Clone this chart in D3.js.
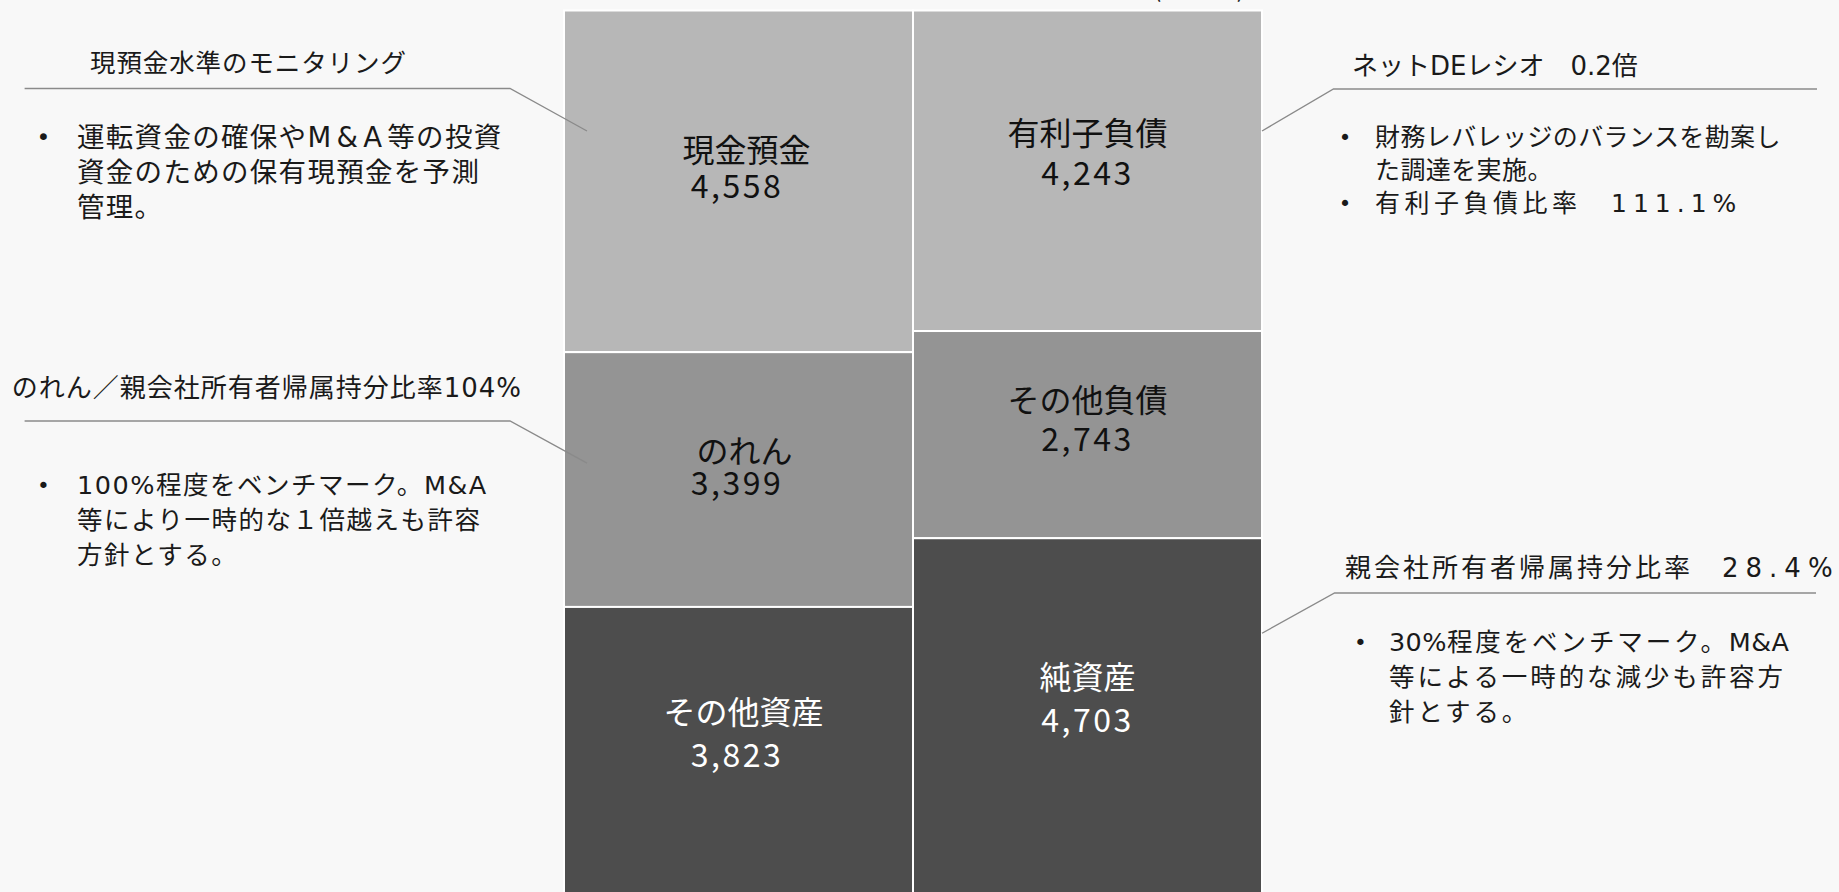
<!DOCTYPE html>
<html>
<head>
<meta charset="utf-8">
<script src="https://cdn.jsdelivr.net/npm/d3@7"></script>
<style>
  html, body { margin: 0; padding: 0; background: #f8f8f8; overflow: hidden; }
  svg { display: block; font-family: "Noto Sans CJK JP", "Noto Sans", sans-serif; }
  .note { font-family: "DejaVu Sans", "Noto Sans CJK JP", sans-serif; }
</style>
</head>
<body>
<svg id="chart" width="1839" height="892"></svg>
<script>
// ---------------- data ----------------
const columns = ["資産", "負債・純資産"];
const assetItems = ["現金預金", "のれん", "その他資産"];
const assetValues = [4558, 3399, 3823];
const liabItems = ["有利子負債", "その他負債", "純資産"];
const liabValues = [4243, 2743, 4703];
const unitLabel = "(百万円)";

const noteTitles = [
  "現預金水準のモニタリング",
  "のれん／親会社所有者帰属持分比率104%",
  "ネットDEレシオ　0.2倍",
  "親会社所有者帰属持分比率　28.4%"
];
const noteBullets = [
  [["運転資金の確保やM&A等の投資", "資金のための保有現預金を予測", "管理。"]],
  [["100%程度をベンチマーク。M&A", "等により一時的な１倍越えも許容", "方針とする。"]],
  [["財務レバレッジのバランスを勘案し", "た調達を実施。"], ["有利子負債比率　111.1%"]],
  [["30%程度をベンチマーク。M&A", "等による一時的な減少も許容方", "針とする。"]]
];
const noteTargets = ["現金預金", "のれん", "有利子負債", "純資産"];

// ---------------- layout / style ----------------
const svg = d3.select("#chart");
const x = d3.scaleBand().domain(columns).range([564, 1262]).paddingInner(0).paddingOuter(0);
const y = d3.scaleLinear().domain([0, 1]).range([10.5, 893.5]);
const tierFill = ["#b7b7b7", "#949494", "#4d4d4d"];
const tierText = ["#111111", "#111111", "#ffffff"];

// label tuning (offsets relative to cell centre)
const labelGap = { "現金預金": 36, "のれん": 32, "その他資産": 43, "有利子負債": 40, "その他負債": 39, "純資産": 43 };
const labelDx = { "現金預金": 8, "のれん": 6, "その他資産": 5, "有利子負債": 0, "その他負債": 0, "純資産": 0 };
const valueDx = { "現金預金": -1.5, "のれん": -1.5, "その他資産": -1.5, "有利子負債": 0, "その他負債": 0, "純資産": 0 };
const valueDy = { "現金預金": 2.5, "のれん": 1, "その他資産": 3, "有利子負債": 0, "その他負債": 2, "純資産": 2 };

// build cells (each column is stacked to 100%)
const cells = [];
[[columns[0], assetItems, assetValues], [columns[1], liabItems, liabValues]].forEach(([col, items, vals]) => {
  const total = d3.sum(vals);
  let acc = 0;
  items.forEach((name, i) => {
    const y0 = acc / total; acc += vals[i];
    cells.push({ col, name, value: vals[i], tier: i, y0, y1: acc / total });
  });
});

svg.append("g").selectAll("rect").data(cells).join("rect")
  .attr("x", d => x(d.col))
  .attr("y", d => y(d.y0))
  .attr("width", x.bandwidth())
  .attr("height", d => y(d.y1) - y(d.y0))
  .attr("fill", d => tierFill[d.tier])
  .attr("stroke", "#ffffff")
  .attr("stroke-width", 2);

const fmt = d3.format(",");
const gLab = svg.append("g").attr("font-size", 32).attr("text-anchor", "middle");
cells.forEach(d => {
  const cx = x(d.col) + x.bandwidth() / 2;
  const cy = (y(d.y0) + y(d.y1)) / 2 + valueDy[d.name];
  gLab.append("text").attr("x", cx + valueDx[d.name]).attr("y", cy)
    .attr("dominant-baseline", "central").attr("fill", tierText[d.tier])
    .attr("letter-spacing", 2.5)
    .text(fmt(d.value));
  gLab.append("text").attr("x", cx + labelDx[d.name]).attr("y", cy - labelGap[d.name])
    .attr("dominant-baseline", "central").attr("fill", tierText[d.tier])
    .text(d.name);
});

// unit label (mostly clipped at the top edge, as in the source slide)
svg.append("text").attr("x", 1199).attr("y", -3).attr("text-anchor", "middle")
  .attr("font-size", 25).attr("fill", "#222").text(unitLabel);

// ---------------- annotations ----------------
const cellOf = name => cells.find(c => c.name === name);
const notes = [
  { side: "L", titleX: 90, titleY: 63, titleSize: 25.5, titleLS: 0.9, titleAx: 0,
    lineY: 88.5, lineX0: 24.6, bendX: 510, tgtDx: 23, tgtDy: 120.5,
    bulletX: 43.4, textX: 77, bodyY: 137, lh: 35, size: 27.5, ls: [1.3], ax: 4 },
  { side: "L", titleX: 11.7, titleY: 388, titleSize: 26, titleLS: 1, titleAx: 0,
    lineY: 421, lineX0: 24.6, bendX: 510, tgtDx: 23, tgtDy: 111,
    bulletX: 43.4, textX: 77, bodyY: 485, lh: 35, size: 25.5, ls: [1.5], ax: 0 },
  { side: "R", titleX: 1352, titleY: 66, titleSize: 26, titleLS: 0, titleAx: 0,
    lineY: 89, lineX1: 1817, bendX: 1333.5, tgtDx: 0, tgtDy: 120.5,
    bulletX: 1345, textX: 1375, bodyY: 137, lh: 33, size: 25, ls: [0.4, 4.5], ax: 1.5 },
  { side: "R", titleX: 1345, titleY: 568, titleSize: 26, titleLS: 3, titleAx: 4,
    lineY: 593, lineX1: 1816, bendX: 1334.6, tgtDx: 0, tgtDy: 95,
    bulletX: 1360.5, textX: 1389, bodyY: 642, lh: 35, size: 25.5, ls: [2.9], ax: -2.5 }
];

// write a line, giving runs of Latin characters their own extra tracking
function writeRuns(sel, str, ls, extra) {
  const runs = str.match(/[\x20-\x7E]+|[^\x20-\x7E]+/g) || [];
  runs.forEach(r => {
    const latin = /^[\x20-\x7E]+$/.test(r);
    sel.append("tspan").attr("letter-spacing", ls + (latin ? extra : 0)).text(r);
  });
}

const gNotes = svg.append("g").attr("class", "note").attr("fill", "#1a1a1a");
notes.forEach((n, i) => {
  const c = cellOf(noteTargets[i]);
  const tx = n.side === "L" ? x(c.col) + n.tgtDx : x(c.col) + x.bandwidth() - n.tgtDx;
  const ty = y(c.y0) + n.tgtDy;
  const pts = n.side === "L"
    ? [[n.lineX0, n.lineY], [n.bendX, n.lineY], [tx, ty]]
    : [[tx, ty], [n.bendX, n.lineY], [n.lineX1, n.lineY]];
  gNotes.append("path").attr("d", d3.line()(pts))
    .attr("fill", "none").attr("stroke", "#8a8a8a").attr("stroke-width", 1.3);

  const t = gNotes.append("text").attr("x", n.titleX).attr("y", n.titleY)
    .attr("dominant-baseline", "central").attr("font-size", n.titleSize);
  writeRuns(t, noteTitles[i], n.titleLS, n.titleAx);

  let ly = n.bodyY;
  noteBullets[i].forEach((para, pi) => {
    gNotes.append("text").attr("x", n.bulletX).attr("y", ly).attr("text-anchor", "middle")
      .attr("dominant-baseline", "central").attr("font-size", n.size * 0.85).text("•");
    const ls = n.ls[pi] !== undefined ? n.ls[pi] : n.ls[0];
    para.forEach(line => {
      const tl = gNotes.append("text").attr("x", n.textX).attr("y", ly)
        .attr("dominant-baseline", "central").attr("font-size", n.size);
      writeRuns(tl, line, ls, n.ax);
      ly += n.lh;
    });
  });
});
</script>
</body>
</html>
